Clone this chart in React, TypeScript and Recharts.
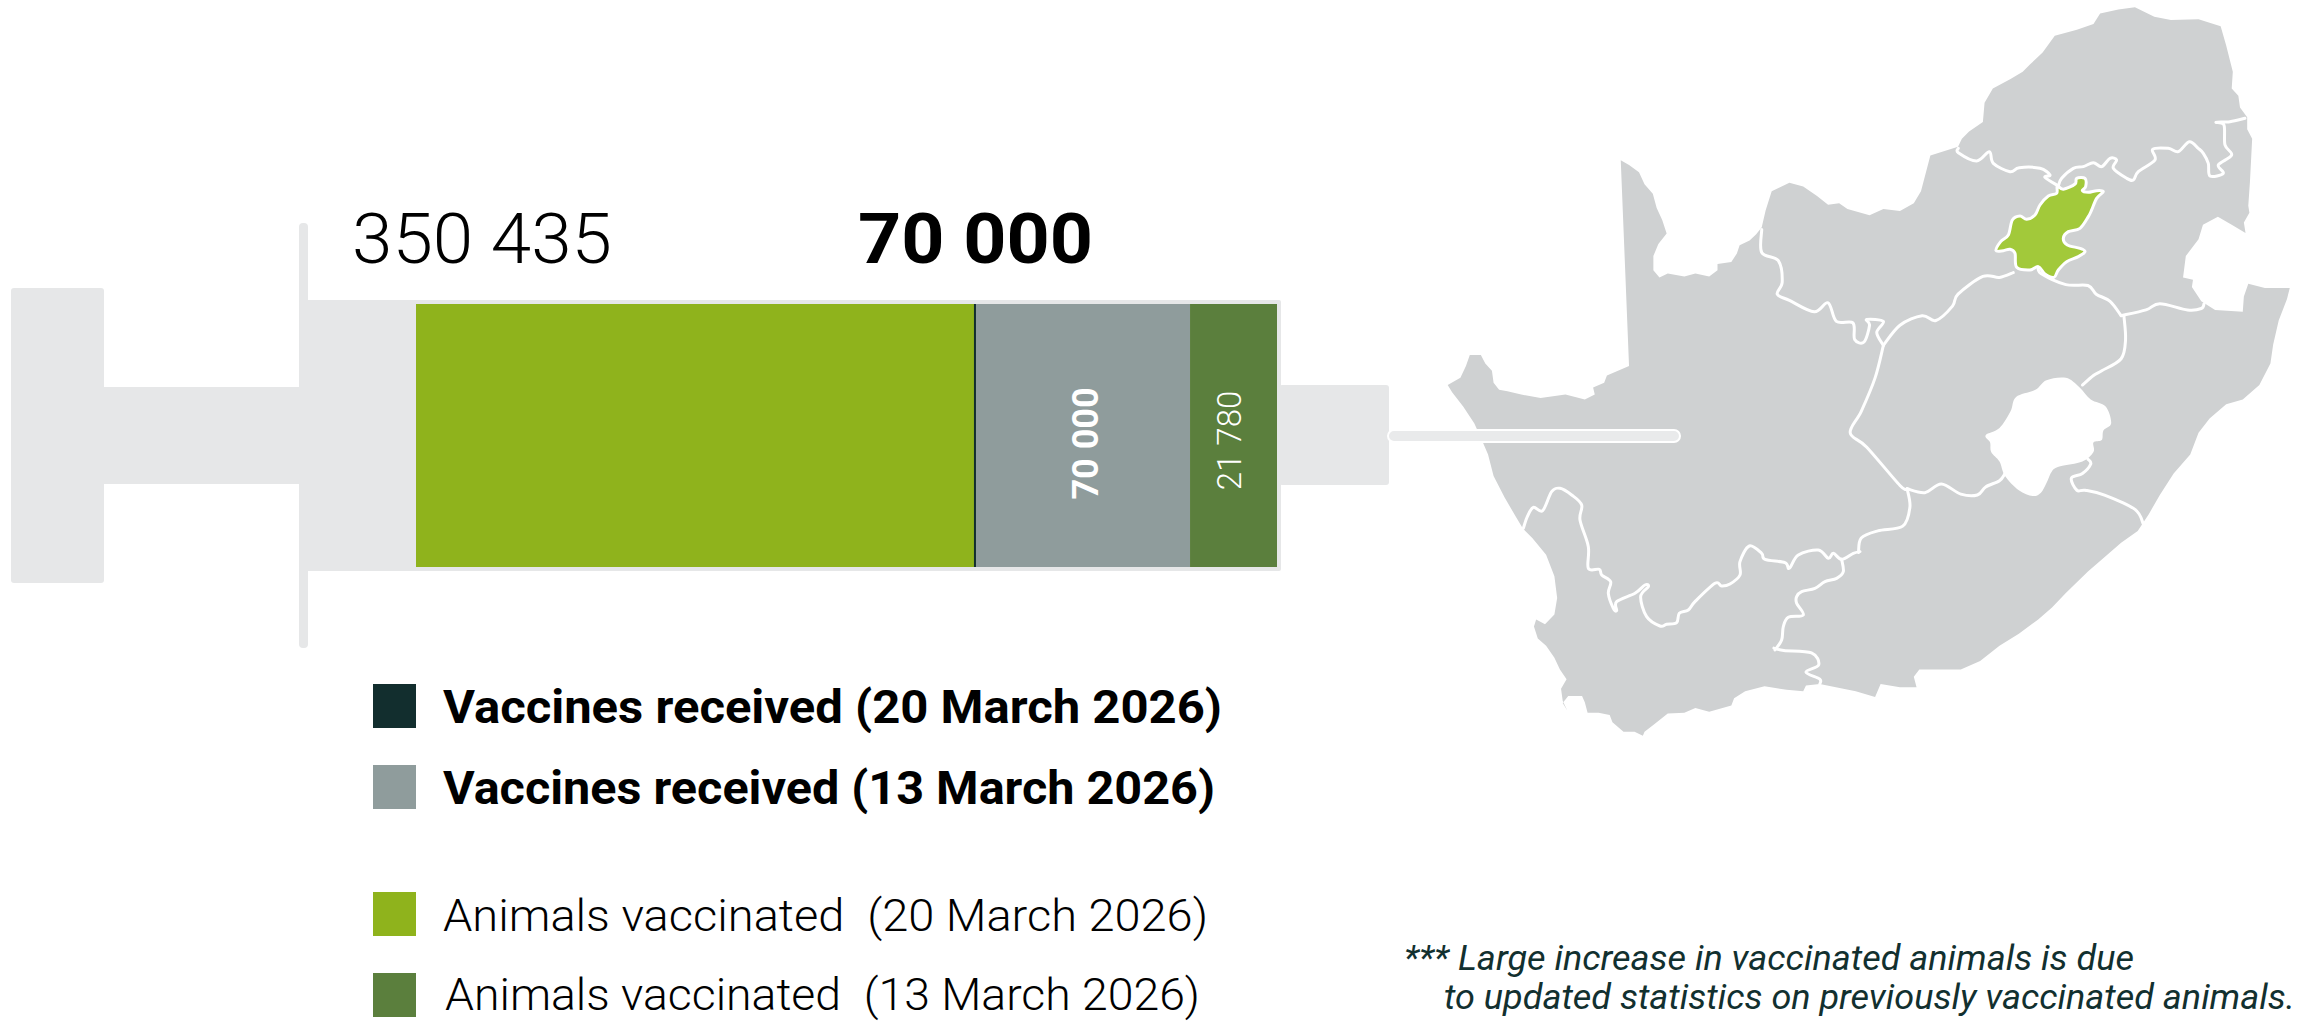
import React from "react";
import { BarChart, Bar, XAxis, YAxis, ReferenceLine, LabelList } from "recharts";

const categories = ["Vaccines"];
const animalsVaccinated20March = [350435];
const vaccinesReceived20March = [70000];
const vaccinesReceived13March = [70000];
const animalsVaccinated13March = [21780];

const legendLabels = [
  "Vaccines received (20 March 2026)",
  "Vaccines received (13 March 2026)",
  "Animals vaccinated  (20 March 2026)",
  "Animals vaccinated  (13 March 2026)",
];
const legendColors = ["#122e2e", "#8f9c9c", "#8fb31c", "#5b7f3d"];
const noteLines = [
  "*** Large increase in vaccinated animals is due",
  "to updated statistics on previously vaccinated animals.",
];

const rows = categories.map((name, i) => ({
  name,
  animals20: animalsVaccinated20March[i],
  vaccines13: vaccinesReceived13March[i],
  animals13: animalsVaccinated13March[i],
}));

const fmt = (v: number) => String(v).replace(/\B(?=(\d{3})+$)/g, " ");

// The reference's bar is not drawn to a linear scale: this scale reproduces its proportions.
const scaleBreaks = [0, 0.6492, 0.899, 1];
function makeScale(domain: number[], range: number[]): any {
  const total = animalsVaccinated20March[0] + vaccinesReceived13March[0] + animalsVaccinated13March[0];
  const stops = [
    0,
    animalsVaccinated20March[0],
    animalsVaccinated20March[0] + vaccinesReceived13March[0],
    total,
  ];
  const s: any = (v: number) => {
    let i = 0;
    while (i < stops.length - 2 && v > stops[i + 1]) i++;
    const t = (v - stops[i]) / (stops[i + 1] - stops[i]);
    const f = scaleBreaks[i] + t * (scaleBreaks[i + 1] - scaleBreaks[i]);
    return range[0] + f * (range[1] - range[0]);
  };
  s.domain = (d?: number[]) => (d ? makeScale(d, range) : domain);
  s.range = (r?: number[]) => (r ? makeScale(domain, r) : range);
  s.copy = () => makeScale(domain, range);
  s.ticks = () => stops;
  s.tickFormat = () => (v: number) => String(v);
  return s;
}
const barScale = makeScale([0, 1], [0, 1]);

const SA_OUTLINE =
  "345,335 360,345 378,360 388,385 403,405 410,435 420,460 428,488 413,510 404,535 404,565 415,580 430,572 460,578 480,572 505,578 520,565 520,552 545,548 555,530 560,513 578,503 590,490 600,475 607,440 618,400 650,382 675,390 700,410 720,428 740,425 755,437 795,450 820,437 850,441 875,425 888,400 905,325 955,307 962,290 975,275 1000,255 1003,215 1018,185 1050,165 1072,150 1085,135 1108,110 1130,75 1170,62 1200,50 1212,28 1245,20 1275,15 1310,35 1340,42 1390,40 1430,55 1440,95 1452,150 1450,185 1462,200 1465,225 1478,245 1478,270 1487,290 1483,380 1480,430 1482,445 1472,465 1475,487 1450,470 1425,453 1398,470 1390,500 1367,535 1362,580 1380,585 1378,600 1395,630 1420,648 1470,652 1472,620 1480,593 1510,602 1555,602 1550,625 1535,670 1525,720 1520,760 1500,805 1470,835 1440,845 1410,875 1390,905 1375,950 1345,990 1320,1035 1300,1075 1280,1110 1250,1135 1225,1160 1190,1195 1150,1240 1125,1270 1100,1295 1065,1325 1030,1350 995,1382 960,1400 920,1400 885,1400 875,1415 880,1437 850,1437 815,1430 805,1457 770,1445 705,1430 680,1433 675,1445 645,1442 605,1435 570,1445 550,1460 545,1475 505,1488 480,1480 460,1490 430,1492 405,1515 388,1530 385,1538 370,1530 350,1530 330,1510 325,1495 305,1490 285,1490 280,1468 275,1455 250,1455 240,1470 248,1485 240,1465 237,1440 247,1420 235,1400 225,1375 210,1350 195,1335 188,1310 192,1295 208,1305 225,1285 230,1250 225,1205 210,1160 185,1125 168,1105 155,1080 135,1040 115,995 105,950 92,915 80,885 60,850 40,820 32,805 55,790 65,765 72,742 92,742 100,760 112,775 115,800 125,815 140,818 165,825 200,832 245,825 280,835 298,825 295,810 315,800 320,785 360,765";
const LESOTHO =
  "1005,910 1030,895 1050,860 1060,830 1095,815 1115,795 1150,790 1175,810 1195,835 1222,850 1232,885 1218,900 1215,920 1200,925 1200,945 1180,965 1140,975 1125,985 1115,1010 1105,1030 1090,1037 1065,1025 1040,995 1030,965 1015,945 1013,925";
const GAUTENG =
  "232,78 250,88 285,72 290,55 315,55 317,80 307,92 325,97 350,92 370,95 350,115 335,150 325,170 300,205 265,215 250,235 262,255 300,265 315,275 295,290 260,305 235,330 222,352 195,342 175,320 150,330 110,322 105,280 90,268 70,272 48,272 62,245 85,225 97,180 120,168 140,178 165,165 180,135 205,108 230,100";
const BORDERS = [
  "600,480 600,528 630,545 637,590 628,615 650,628 695,652 720,633 735,672 765,675 768,710 785,715 795,680 790,668 820,672 808,695 820,722",
  "820,722 850,680 890,660 915,670 945,640 955,615 1000,578 1030,580 1055,570",
  "820,722 805,790 780,860 760,905 790,935 850,1015 863,1022",
  "863,1022 895,1030 925,1012 960,1033 990,1035 1005,1018 1030,1005 1040,990",
  "863,1022 868,1060 855,1100 810,1110 780,1125 775,1155",
  "622,1355 640,1360 690,1365 703,1390 680,1405 705,1420 705,1430",
  "1100,555 1105,572 1150,595 1190,597 1205,615 1230,630 1250,660",
  "1250,660 1295,648 1320,635 1370,648 1395,645 1400,635",
  "1255,660 1258,710 1250,750 1215,775 1200,785 1180,805",
  "1190,960 1195,970 1180,990 1160,1000 1170,1025 1185,1025 1220,1035 1275,1065 1290,1095",
];
const BORDERS_NORTH = [
  "85,145 85,158 140,183 178,155 190,190 240,215 268,203 330,205 360,225 345,232 385,258",
  "385,258 395,235 430,205 460,200 490,188 515,200 540,175 560,180 550,205 590,235 610,240 625,215 675,180 668,148 715,145 745,155 778,125 805,145 820,160 835,190 840,228 880,220 865,195 905,165 885,135 882,75 858,67 900,65 945,55",
];
const BORDERS_SOUTH = [
  "10,145 22,110 40,82 68,92 95,35 120,25 155,45 185,75 180,120 205,200 205,265 238,268 245,285 272,305 265,340 280,385 290,392 290,365 345,340 375,315 385,320 362,350 380,410 420,438 440,433 470,428 478,400 505,390 525,365 585,310 605,318 630,312 660,285 660,245 688,198 725,220 735,238 795,248 808,265 835,225 895,210 925,235 940,220 965,238 1000,220 1020,215",
  "965,238 970,275 950,295 915,305 885,325 845,335 830,350 830,370 850,405 805,412 790,440 785,480 765,510",
];

function smooth(points: string, closed = false): string {
  const p = points.split(" ").map((s) => s.split(",").map(Number));
  const n = p.length;
  const at = (i: number) => (closed ? p[(i + n) % n] : p[Math.max(0, Math.min(n - 1, i))]);
  let d = `M${p[0][0]},${p[0][1]}`;
  const last = closed ? n : n - 1;
  for (let i = 0; i < last; i++) {
    const a = at(i - 1), b = at(i), c = at(i + 1), e = at(i + 2);
    d += `C${b[0] + (c[0] - a[0]) / 6},${b[1] + (c[1] - a[1]) / 6} ${c[0] - (e[0] - b[0]) / 6},${c[1] - (e[1] - b[1]) / 6} ${c[0]},${c[1]}`;
  }
  return closed ? d + "Z" : d;
}

const SYRINGE = "#e6e7e8";
const FONT = "Roboto, sans-serif";
const lineProps: any = {
  fill: "none",
  stroke: "#ffffff",
  strokeWidth: 3,
  strokeLinejoin: "round",
  strokeLinecap: "round",
  vectorEffect: "non-scaling-stroke",
};

export default function App() {
  const legendRows = [
    { y: 684, h: 44, x: 443, base: 723, size: 46, weight: 700, len: 779 },
    { y: 765, h: 44, x: 443, base: 804, size: 46, weight: 700, len: 772 },
    { y: 892, h: 44, x: 443, base: 931, size: 45, weight: 300, len: 765 },
    { y: 973, h: 44, x: 445, base: 1010, size: 45, weight: 300, len: 755 },
  ];
  return (
    <div style={{ position: "absolute", left: 0, top: 0, width: 2297, height: 1021, background: "#fff", overflow: "hidden" }}>
      <BarChart
        width={2297}
        height={1021}
        layout="vertical"
        data={rows}
        barCategoryGap={0}
        margin={{ left: 416, right: 1020, top: 304, bottom: 454 }}
      >
        {/* syringe */}
        <g fill={SYRINGE}>
          <rect x={11} y={288} width={93} height={295} rx={3} />
          <rect x={104} y={387} width={200} height={97} />
          <rect x={299} y={223} width={9} height={425} rx={4} />
          <rect x={299} y={300} width={982} height={271} rx={2} />
          <rect x={1279} y={385} width={110} height={100} rx={3} />
        </g>
        {/* map */}
        <g transform="translate(1430,0) scale(0.5529,0.4783)">
          <polygon points={SA_OUTLINE} fill="#cfd1d2" />
          <path d={smooth(LESOTHO, true)} fill="#ffffff" />
          {BORDERS.map((b, i) => (
            <path key={i} d={smooth(b)} {...lineProps} />
          ))}
        </g>
        <g transform="translate(1930,100) scale(0.3333)">
          {BORDERS_NORTH.map((b, i) => (
            <path key={i} d={smooth(b)} {...lineProps} />
          ))}
        </g>
        <g transform="translate(1520,480) scale(0.3333)">
          {BORDERS_SOUTH.map((b, i) => (
            <path key={i} d={smooth(b)} {...lineProps} />
          ))}
        </g>
        <g transform="translate(1980,160) scale(0.3333)">
          <path d={smooth(GAUTENG, true)} {...lineProps} fill="#a2c93a" />
        </g>
        <rect x={1388} y={430} width={292} height={12} rx={6} fill="#e9eaeb" stroke="#ffffff" strokeWidth={2} />

        <XAxis type="number" hide scale={barScale} domain={[0, animalsVaccinated20March[0] + vaccinesReceived13March[0] + animalsVaccinated13March[0]]} />
        <YAxis type="category" dataKey="name" hide />
        <Bar dataKey="animals20" stackId="a" fill={legendColors[2]} isAnimationActive={false} />
        <Bar dataKey="vaccines13" stackId="a" fill={legendColors[1]} isAnimationActive={false}>
          <LabelList dataKey="vaccines13" position="center" angle={-90} dx={3} dy={8} formatter={fmt as any} fill="#ffffff" fontSize={36} fontWeight={700} fontFamily={FONT} />
        </Bar>
        <Bar dataKey="animals13" stackId="a" fill={legendColors[3]} isAnimationActive={false}>
          <LabelList dataKey="animals13" position="center" angle={-90} dx={-4} dy={5} formatter={fmt as any} fill="#ffffff" fontSize={33} fontWeight={300} fontFamily={FONT} />
        </Bar>
        <ReferenceLine x={animalsVaccinated20March[0]} stroke={legendColors[0]} strokeWidth={2} />

        {/* headline values */}
        <text x={352} y={263} fontFamily={FONT} fontSize={70} fontWeight={300} fill="#000" textLength={260} lengthAdjust="spacingAndGlyphs">
          {fmt(animalsVaccinated20March[0])}
        </text>
        <text x={858} y={263} fontFamily={FONT} fontSize={70} fontWeight={700} fill="#000" textLength={235} lengthAdjust="spacingAndGlyphs">
          {fmt(vaccinesReceived20March[0])}
        </text>

        {/* legend */}
        {legendLabels.map((label, i) => (
          <g key={label}>
            <rect x={373} y={legendRows[i].y} width={43} height={legendRows[i].h} fill={legendColors[i]} />
            <text x={legendRows[i].x} y={legendRows[i].base} fontFamily={FONT} fontSize={legendRows[i].size} fontWeight={legendRows[i].weight} fill="#000" textLength={legendRows[i].len} lengthAdjust="spacingAndGlyphs" style={{ whiteSpace: "pre" }}>
              {label}
            </text>
          </g>
        ))}

        {/* note */}
        <text x={1404} y={970} fontFamily={FONT} fontSize={35} fontStyle="italic" fontWeight={400} fill="#12302f" textLength={730} lengthAdjust="spacingAndGlyphs">
          {noteLines[0]}
        </text>
        <text x={1444} y={1009} fontFamily={FONT} fontSize={35} fontStyle="italic" fontWeight={400} fill="#12302f" textLength={851} lengthAdjust="spacingAndGlyphs">
          {noteLines[1]}
        </text>
      </BarChart>
    </div>
  );
}
